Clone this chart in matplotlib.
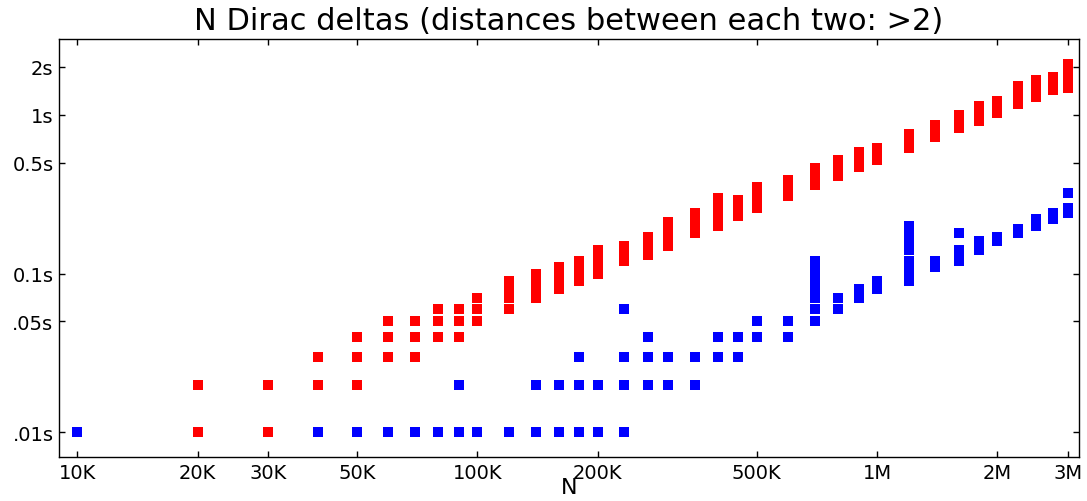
import matplotlib
matplotlib.use("Agg")
import matplotlib.pyplot as plt

# problem sizes (N) and measured times (s), several runs per N
n_values = [10000, 20000, 30000, 40000, 50000, 60000, 70000, 80000, 90000, 100000,
            120000, 140000, 160000, 180000, 200000, 233000, 267000, 300000, 350000,
            400000, 450000, 500000, 600000, 700000, 800000, 900000, 1000000,
            1200000, 1400000, 1600000, 1800000, 2000000, 2250000, 2500000,
            2750000, 3000000]

red_times = [
    [0.01],
    [0.01, 0.02],
    [0.01, 0.02],
    [0.02, 0.03],
    [0.02, 0.03, 0.04],
    [0.03, 0.04, 0.05],
    [0.03, 0.04, 0.05],
    [0.04, 0.05, 0.06],
    [0.04, 0.05, 0.06],
    [0.05, 0.06, 0.07],
    [0.06, 0.07, 0.08, 0.09],
    [0.07, 0.08, 0.09, 0.10],
    [0.08, 0.09, 0.10, 0.11],
    [0.09, 0.10, 0.11, 0.12],
    [0.10, 0.11, 0.12, 0.13, 0.14],
    [0.12, 0.13, 0.14, 0.15],
    [0.13, 0.14, 0.15, 0.16, 0.17],
    [0.15, 0.16, 0.17, 0.18, 0.19, 0.20, 0.21],
    [0.18, 0.19, 0.20, 0.21, 0.22, 0.24],
    [0.20, 0.22, 0.24, 0.26, 0.28, 0.30],
    [0.23, 0.25, 0.27, 0.29],
    [0.26, 0.28, 0.30, 0.32, 0.35],
    [0.31, 0.33, 0.36, 0.39],
    [0.36, 0.39, 0.42, 0.46],
    [0.41, 0.44, 0.48, 0.52],
    [0.47, 0.51, 0.55, 0.58],
    [0.52, 0.56, 0.59, 0.62],
    [0.62, 0.66, 0.71, 0.76],
    [0.72, 0.77, 0.82, 0.86],
    [0.83, 0.89, 0.95, 1.00],
    [0.92, 0.98, 1.05, 1.13],
    [1.02, 1.08, 1.15, 1.22],
    [1.17, 1.25, 1.33, 1.42, 1.51],
    [1.30, 1.38, 1.47, 1.56, 1.65],
    [1.43, 1.52, 1.63, 1.74],
    [1.48, 1.58, 1.70, 1.82, 1.95, 2.08],
]

blue_times = [
    [0.01],
    [],
    [],
    [0.01],
    [0.01],
    [0.01],
    [0.01],
    [0.01],
    [0.01, 0.02],
    [0.01],
    [0.01],
    [0.01, 0.02],
    [0.01, 0.02],
    [0.01, 0.02, 0.03],
    [0.01, 0.02],
    [0.01, 0.02, 0.03, 0.06],
    [0.02, 0.03, 0.04],
    [0.02, 0.03],
    [0.02, 0.03],
    [0.03, 0.04],
    [0.03, 0.04],
    [0.04, 0.05],
    [0.04, 0.05],
    [0.05, 0.06, 0.07, 0.08, 0.09, 0.10, 0.11, 0.12],
    [0.06, 0.07],
    [0.07, 0.08],
    [0.08, 0.09],
    [0.09, 0.10, 0.11, 0.12, 0.14, 0.15, 0.16, 0.17, 0.18, 0.19, 0.20],
    [0.11, 0.12],
    [0.12, 0.13, 0.14, 0.18],
    [0.14, 0.15, 0.16],
    [0.16, 0.17],
    [0.18, 0.19],
    [0.20, 0.21, 0.22],
    [0.22, 0.23, 0.24],
    [0.24, 0.25, 0.26, 0.32],
]

x_ticks = [10000, 20000, 30000, 50000, 100000, 200000, 500000, 1000000, 2000000, 3000000]
x_labels = ["10K", "20K", "30K", "50K", "100K", "200K", "500K", "1M", "2M", "3M"]
y_ticks = [0.01, 0.05, 0.1, 0.5, 1, 2]
y_labels = [".01s", ".05s", "0.1s", "0.5s", "1s", "2s"]


def flatten(times):
    xs, ys = [], []
    for n, ts in zip(n_values, times):
        for t in ts:
            xs.append(n)
            ys.append(t)
    return xs, ys


fig = plt.figure(figsize=(10.87, 5.02), dpi=100)
ax = fig.add_axes([59 / 1087, 1 - 458 / 502, 1020 / 1087, 418 / 502])

rx, ry = flatten(red_times)
bx, by = flatten(blue_times)
ax.plot(rx, ry, "rs", ms=6.7, mew=0, linestyle="none")
ax.plot(bx, by, "bs", ms=6.7, mew=0, linestyle="none", color="#0000ff")

ax.set_xscale("log")
ax.set_yscale("log")
ax.set_xlim(9000, 3.2e6)
ax.set_ylim(0.007, 3.0)
ax.set_xticks(x_ticks)
ax.set_xticklabels(x_labels)
ax.set_yticks(y_ticks)
ax.set_yticklabels(y_labels)
ax.minorticks_off()
ax.tick_params(direction="in", top=True, right=True, length=4, width=1,
               labelsize=14, pad=4)

for s in ax.spines.values():
    s.set_linewidth(1.0)

ax.set_title("N Dirac deltas (distances between each two: >2)", fontsize=22, pad=7.5)
ax.set_xlabel("N", fontsize=16, labelpad=-3)

fig.savefig("out.png", dpi=100)
